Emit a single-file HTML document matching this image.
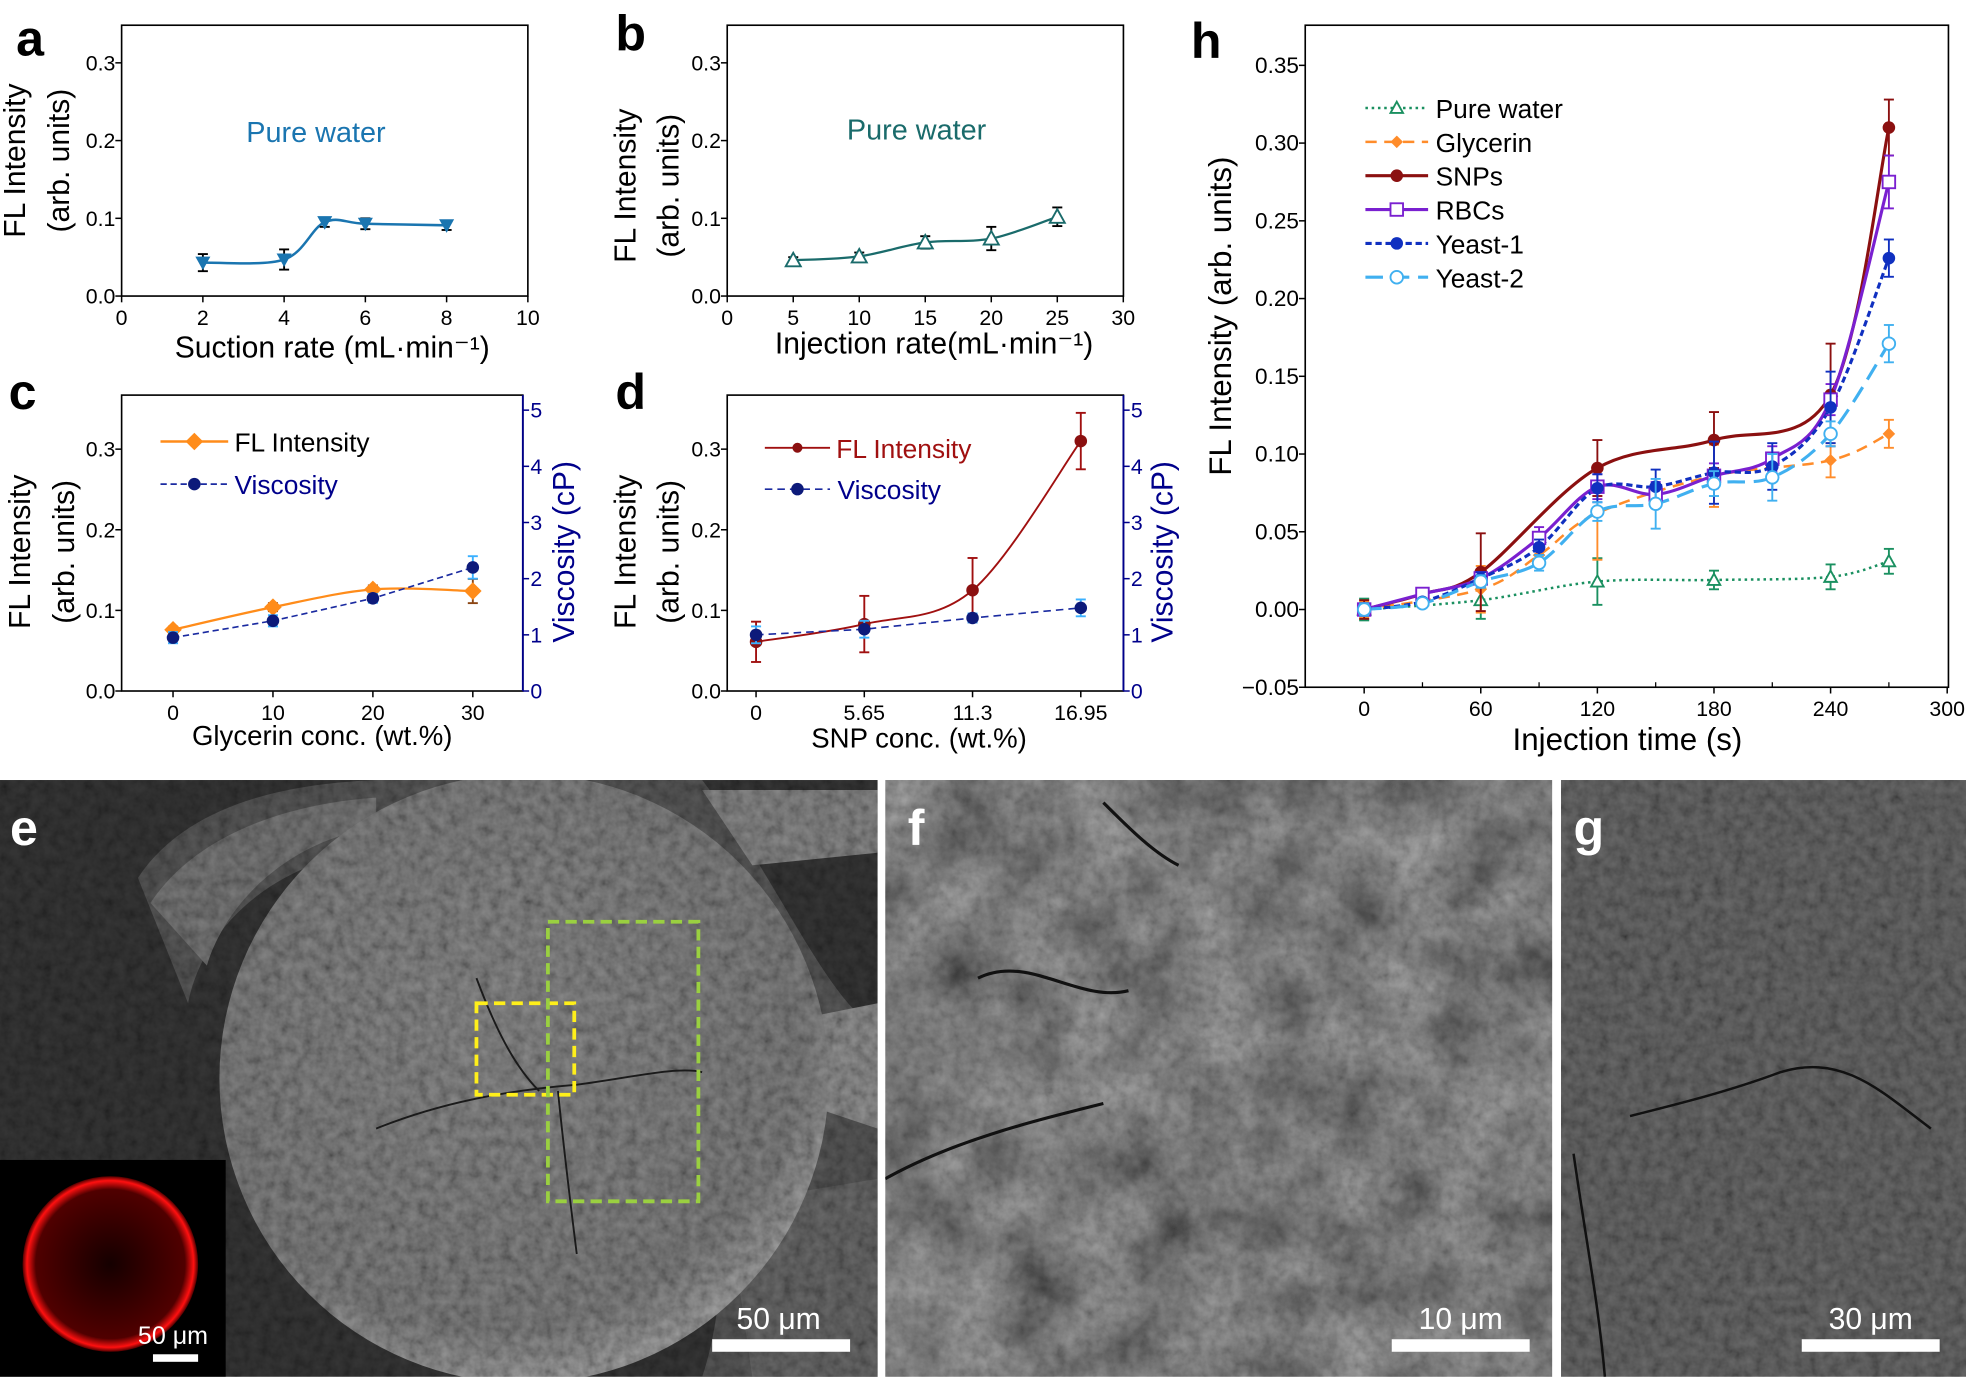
<!DOCTYPE html>
<html><head><meta charset="utf-8"><style>
html,body{margin:0;padding:0;background:#fff}
svg{display:block}
text{font-family:"Liberation Sans",sans-serif}
.ov{mix-blend-mode:overlay}
</style></head><body>
<svg id="s" xmlns="http://www.w3.org/2000/svg" width="1966" height="1377" viewBox="0 0 1568 1098">
<defs>
<filter id="tex" x="0" y="0" width="100%" height="100%">
<feTurbulence type="fractalNoise" baseFrequency="0.12" numOctaves="3" seed="3"/>
<feColorMatrix type="matrix" values="1 0 0 0 0  1 0 0 0 0  1 0 0 0 0  0 0 0 0 1"/>
</filter>
<filter id="tex2" x="0" y="0" width="100%" height="100%">
<feTurbulence type="fractalNoise" baseFrequency="0.02" numOctaves="4" seed="7"/>
<feColorMatrix type="matrix" values="1 0 0 0 0  1 0 0 0 0  1 0 0 0 0  0 0 0 0 1"/>
</filter>
<radialGradient id="sph" cx="0.45" cy="0.4" r="0.6"><stop offset="0" stop-color="#626262"/><stop offset="0.85" stop-color="#5a5a5a"/><stop offset="1" stop-color="#707070"/></radialGradient>
<radialGradient id="ring" cx="0.5" cy="0.5" r="0.5"><stop offset="0" stop-color="#150000"/><stop offset="0.85" stop-color="#500000"/><stop offset="0.95" stop-color="#ff1010"/><stop offset="1" stop-color="#500000"/></radialGradient>
<clipPath id="ce"><rect x="0" y="622" width="700" height="476"/></clipPath>
<clipPath id="cf"><rect x="706" y="622" width="532" height="476"/></clipPath>
<clipPath id="cg"><rect x="1245" y="622" width="323" height="476"/></clipPath>
</defs>

<g clip-path="url(#ce)">
<rect x="0" y="622" width="700" height="476" fill="#262626"/>
<path d="M110,700 C150,640 230,625 300,622 L560,622 C620,700 660,800 700,820 L700,1098 L560,1098 C 600,980 560,760 430,700 C 300,640 170,700 150,800 Z" fill="#3e3e3e"/>
<path d="M120,720 C160,660 240,640 300,636 L300,660 C230,670 180,720 165,770 Z" fill="#555"/>
<path d="M560,630 L700,630 L700,680 L600,690 Z" fill="#606060"/>
<path d="M600,820 L700,800 L700,900 L640,880 Z" fill="#666"/>
<path d="M580,960 L700,940 L700,1098 L600,1098 Z" fill="#4a4a4a"/>
<circle cx="418" cy="860" r="243" fill="url(#sph)"/>
<rect class="ov" x="0" y="622" width="700" height="476" filter="url(#tex)" opacity="0.45"/>
<path d="M380,780 C395,820 410,850 430,870 M300,900 C350,880 400,870 460,865 C500,860 540,850 560,855 M445,870 C450,920 455,960 460,1000" stroke="#1a1a1a" stroke-width="1.5" fill="none"/>
<rect x="380" y="800" width="78" height="73" fill="none" stroke="#ffef1a" stroke-width="3" stroke-dasharray="9,5"/>
<rect x="437" y="735" width="120" height="223" fill="none" stroke="#9ad040" stroke-width="3" stroke-dasharray="9,5"/>
<rect x="0" y="925" width="180" height="173" fill="#000"/>
<circle cx="88" cy="1008" r="70" fill="url(#ring)"/>
<text x="110" y="1072" font-size="20" fill="#fff">50 μm</text>
<rect x="122" y="1080" width="36" height="6" fill="#fff"/>
<rect x="568" y="1068" width="110" height="10" fill="#fff"/>
<text x="621" y="1060" font-size="24" fill="#fff" text-anchor="middle">50 μm</text>
<text x="8" y="674" font-size="40" font-weight="bold" fill="#fff">e</text>
</g>
<g clip-path="url(#cf)">
<rect x="706" y="622" width="532" height="476" fill="#4c4c4c"/>
<rect class="ov" x="706" y="622" width="532" height="476" filter="url(#tex2)" opacity="0.8"/>
<rect class="ov" x="706" y="622" width="532" height="476" filter="url(#tex)" opacity="0.3"/>
<path d="M706,940 C760,910 820,895 880,880 M780,780 C820,760 860,800 900,790 M880,640 C900,660 920,680 940,690" stroke="#111" stroke-width="2.5" fill="none"/>
<rect x="1110" y="1068" width="110" height="10" fill="#fff"/>
<text x="1165" y="1060" font-size="24" fill="#fff" text-anchor="middle">10 μm</text>
<text x="724" y="674" font-size="40" font-weight="bold" fill="#fff">f</text>
</g>
<g clip-path="url(#cg)">
<rect x="1245" y="622" width="323" height="476" fill="#4a4a4a"/>
<rect class="ov" x="1245" y="622" width="323" height="476" filter="url(#tex)" opacity="0.45"/>
<path d="M1300,890 C1340,880 1380,870 1420,855 C1470,840 1500,870 1540,900 M1255,920 C1265,990 1275,1040 1280,1098" stroke="#111" stroke-width="2" fill="none"/>
<rect x="1437" y="1068" width="110" height="10" fill="#fff"/>
<text x="1492" y="1060" font-size="24" fill="#fff" text-anchor="middle">30 μm</text>
<text x="1255" y="674" font-size="40" font-weight="bold" fill="#fff">g</text>
</g>
<g id="charts"></g>
</svg>
<script>
var NS="http://www.w3.org/2000/svg",G=document.getElementById("charts");
function el(t,a,txt){var e=document.createElementNS(NS,t);for(var k in a)e.setAttribute(k,a[k]);if(txt!==undefined)e.textContent=txt;G.appendChild(e);return e;}
function txt(x,y,s,sz,o){o=o||{};var a={x:x,y:y,"font-size":sz,fill:o.fill||"#000","text-anchor":o.anchor||"start"};if(o.rot)a.transform="rotate(-90 "+x+" "+y+")";if(o.bold)a["font-weight"]="bold";el("text",a,s);}
function cr(p){if(p.length<3)return "M"+p.map(q=>q.join(",")).join(" L");var d="M"+p[0][0]+","+p[0][1];for(var i=0;i<p.length-1;i++){var p0=p[i-1]||p[i],p1=p[i],p2=p[i+1],p3=p[i+2]||p2;d+=" C"+(p1[0]+(p2[0]-p0[0])/6)+","+(p1[1]+(p2[1]-p0[1])/6)+" "+(p2[0]-(p3[0]-p1[0])/6)+","+(p2[1]-(p3[1]-p1[1])/6)+" "+p2[0]+","+p2[1];}return d;}
function line(p,c,w,dash,smooth){el("path",{d:smooth?cr(p):"M"+p.map(q=>q.join(",")).join(" L"),fill:"none",stroke:c,"stroke-width":w,"stroke-dasharray":dash||"none"});}
function eb(x,y1,y2,c){el("line",{x1:x,y1:y1,x2:x,y2:y2,stroke:c,"stroke-width":1.5});el("line",{x1:x-4,y1:y1,x2:x+4,y2:y1,stroke:c,"stroke-width":1.5});el("line",{x1:x-4,y1:y2,x2:x+4,y2:y2,stroke:c,"stroke-width":1.5});}
function mk(t,x,y,c,r){r=r||5;
 if(t=="dtri")el("path",{d:"M"+(x-r)+","+(y-r*0.8)+" L"+(x+r)+","+(y-r*0.8)+" L"+x+","+(y+r)+"Z",fill:c});
 else if(t=="otri")el("path",{d:"M"+(x-r)+","+(y+r*0.8)+" L"+(x+r)+","+(y+r*0.8)+" L"+x+","+(y-r)+"Z",fill:"#fff",stroke:c,"stroke-width":1.5});
 else if(t=="dia")el("path",{d:"M"+x+","+(y-r)+" L"+(x+r)+","+y+" L"+x+","+(y+r)+" L"+(x-r)+","+y+"Z",fill:c});
 else if(t=="circ")el("circle",{cx:x,cy:y,r:r,fill:c});
 else if(t=="ocirc")el("circle",{cx:x,cy:y,r:r,fill:"#fff",stroke:c,"stroke-width":1.5});
 else if(t=="osq")el("rect",{x:x-r,y:y-r,width:2*r,height:2*r,fill:"#fff",stroke:c,"stroke-width":1.5});
}
function frame(x0,y0,x1,y1){el("rect",{x:x0,y:y0,width:x1-x0,height:y1-y0,fill:"none",stroke:"#000","stroke-width":1.3});}
function xt(X,vals,y,lab,sz){vals.forEach(function(v,i){el("line",{x1:X(v),y1:y,x2:X(v),y2:y+5,stroke:"#000","stroke-width":1.2});txt(X(v),y+23,lab?lab[i]:String(v),sz||17,{anchor:"middle"});});}
function yt(Y,vals,x,lab,sz,right,col){vals.forEach(function(v,i){el("line",{x1:x,y1:Y(v),x2:right?x+5:x-5,y2:Y(v),stroke:col||"#000","stroke-width":1.2});txt(right?x+6:x-5,Y(v)+6,lab[i],sz||17,{anchor:right?"start":"end",fill:col||"#000"});});}

(function(){var X=v=>97+32.4*v,Y=v=>236-620*v;frame(97,20,421,236);
xt(X,[0,2,4,6,8,10],236);yt(Y,[0,.1,.2,.3],97,["0.0","0.1","0.2","0.3"]);
var d=[[2,.043,.011],[4,.047,.013],[5,.095,.006],[6,.093,.007],[8,.091,.006]],c="#1a75b0";
line(d.map(q=>[X(q[0]),Y(q[1])]),c,2,null,true);d.forEach(q=>{eb(X(q[0]),Y(q[1]-q[2]),Y(q[1]+q[2]),"#000");mk("dtri",X(q[0]),Y(q[1]),c,6);});
txt(252,113,"Pure water",23,{anchor:"middle",fill:c});
txt(24,44,"a",40,{bold:1,anchor:"middle"});
txt(20,128,"FL Intensity",24,{rot:1,anchor:"middle"});txt(55,128,"(arb. units)",24,{rot:1,anchor:"middle"});
txt(265,285,"Suction rate (mL·min⁻¹)",24,{anchor:"middle"});})();
(function(){var X=v=>580+10.53*v,Y=v=>236-620*v;frame(580,20,896,236);
xt(X,[0,5,10,15,20,25,30],236);yt(Y,[0,.1,.2,.3],580,["0.0","0.1","0.2","0.3"]);
var d=[[5,.046,.004],[10,.051,.005],[15,.069,.008],[20,.074,.015],[25,.102,.012]],c="#1a6b6b";
line(d.map(q=>[X(q[0]),Y(q[1])]),c,1.8,null,true);d.forEach(q=>{eb(X(q[0]),Y(q[1]-q[2]),Y(q[1]+q[2]),"#000");mk("otri",X(q[0]),Y(q[1]),c,6);});
txt(731,111,"Pure water",23,{anchor:"middle",fill:c});
txt(503,40,"b",40,{bold:1,anchor:"middle"});
txt(507,148,"FL Intensity",24,{rot:1,anchor:"middle"});txt(541,148,"(arb. units)",24,{rot:1,anchor:"middle"});
txt(745,282,"Injection rate(mL·min⁻¹)",24,{anchor:"middle"});})();
(function(){var X=v=>138+7.97*v,Y=v=>551-643*v,V=v=>551-44.8*v;frame(97,315,417,551);
el("line",{x1:417,y1:315,x2:417,y2:551,stroke:"#00008b","stroke-width":1.5});
xt(X,[0,10,20,30],551);yt(Y,[0,.1,.2,.3],97,["0.0","0.1","0.2","0.3"]);yt(V,[0,1,2,3,4,5],417,["0","1","2","3","4","5"],17,true,"#00008b");
var f=[[0,.076,.004],[10,.104,.005],[20,.126,.005],[30,.124,.015]],v=[[0,.95,.1],[10,1.25,.1],[20,1.65,.08],[30,2.2,.2]];
line(f.map(q=>[X(q[0]),Y(q[1])]),"#ff8c1a",1.8,null,true);line(v.map(q=>[X(q[0]),V(q[1])]),"#1a2aa0",1.3,"5,3");
f.forEach(q=>{eb(X(q[0]),Y(q[1]-q[2]),Y(q[1]+q[2]),"#8b4513");mk("dia",X(q[0]),Y(q[1]),"#ff8c1a",7);});
v.forEach(q=>{eb(X(q[0]),V(q[1]-q[2]),V(q[1]+q[2]),"#3ab0ff");mk("circ",X(q[0]),V(q[1]),"#0d1a7a",5);});
line([[128,352],[182,352]],"#ff8c1a",2);mk("dia",155,352,"#ff8c1a",7);txt(187,360,"FL Intensity",21);
line([[128,386],[182,386]],"#1a2aa0",1.3,"5,3");mk("circ",155,386,"#0d1a7a",5);txt(187,394,"Viscosity",21,{fill:"#00008b"});
txt(18,326,"c",40,{bold:1,anchor:"middle"});
txt(24,440,"FL Intensity",24,{rot:1,anchor:"middle"});txt(59,440,"(arb. units)",24,{rot:1,anchor:"middle"});
txt(458,440,"Viscosity (cP)",24,{rot:1,anchor:"middle",fill:"#00008b"});
txt(257,594,"Glycerin conc. (wt.%)",22,{anchor:"middle"});})();
(function(){var X=v=>603+15.28*v,Y=v=>551-643*v,V=v=>551-44.8*v;frame(580,315,896,551);
el("line",{x1:896,y1:315,x2:896,y2:551,stroke:"#00008b","stroke-width":1.5});
xt(X,[0,5.65,11.3,16.95],551,["0","5.65","11.3","16.95"]);yt(Y,[0,.1,.2,.3],580,["0.0","0.1","0.2","0.3"]);yt(V,[0,1,2,3,4,5],896,["0","1","2","3","4","5"],17,true,"#00008b");
var f=[[0,.061,.025],[5.65,.083,.035],[11.3,.125,.04],[16.95,.31,.035]],v=[[0,1.0,.15],[5.65,1.1,.15],[11.3,1.3,.08],[16.95,1.48,.15]];
line(f.map(q=>[X(q[0]),Y(q[1])]),"#a01010",1.5,null,true);line(v.map(q=>[X(q[0]),V(q[1])]),"#1a2aa0",1.3,"6,4");
f.forEach(q=>{eb(X(q[0]),Y(q[1]-q[2]),Y(q[1]+q[2]),"#a01010");mk("circ",X(q[0]),Y(q[1]),"#8b1010",5);});
v.forEach(q=>{eb(X(q[0]),V(q[1]-q[2]),V(q[1]+q[2]),"#3ab0ff");mk("circ",X(q[0]),V(q[1]),"#0d1a7a",5);});
line([[610,357],[662,357]],"#a01010",1.5);mk("circ",636,357,"#8b1010",4);txt(667,365,"FL Intensity",21,{fill:"#a01010"});
line([[610,390],[662,390]],"#1a2aa0",1.3,"6,4");mk("circ",636,390,"#0d1a7a",5);txt(668,398,"Viscosity",21,{fill:"#00008b"});
txt(503,326,"d",40,{bold:1,anchor:"middle"});
txt(507,440,"FL Intensity",24,{rot:1,anchor:"middle"});txt(541,440,"(arb. units)",24,{rot:1,anchor:"middle"});
txt(935,440,"Viscosity (cP)",24,{rot:1,anchor:"middle",fill:"#00008b"});
txt(733,596,"SNP conc. (wt.%)",22,{anchor:"middle"});})();
(function(){var X=t=>1088+1.55*t,Y=v=>486-1240*v;frame(1041,20,1554,548);
xt(X,[0,60,120,180,240,300],548);
yt(Y,[-.05,0,.05,.1,.15,.2,.25,.3,.35],1041,["−0.05","0.00","0.05","0.10","0.15","0.20","0.25","0.30","0.35"],18);
[30,90,150,210,270].forEach(t=>el("line",{x1:X(t),y1:548,x2:X(t),y2:544,stroke:"#000"}));
var T=[0,30,60,90,120,150,180,210,240,270];
var S=[
 {n:"Pure water",c:"#1a9060",d:"2,3",w:2,m:"otri",t:[0,60,120,180,240,270],v:[0,.006,.018,.019,.021,.031],e:[.007,.012,.015,.006,.008,.008]},
 {n:"Glycerin",c:"#ff8c2a",d:"9,6",w:2,m:"dia",t:[0,60,90,120,180,240,270],v:[0,.013,.035,.062,.086,.096,.113],e:[.005,.015,.005,.03,.02,.011,.009],mc:"#ff8c2a"},
 {n:"SNPs",c:"#8b1010",d:null,w:2.5,m:"circ",t:[0,30,60,120,180,240,270],v:[0,.01,.024,.091,.109,.138,.31],e:[.006,.002,.025,.018,.018,.033,.018]},
 {n:"RBCs",c:"#7a20d0",d:null,w:2.5,m:"osq",t:T,v:[0,.01,.02,.046,.079,.074,.086,.097,.135,.275],e:[.004,.002,.004,.007,.008,.008,.008,.008,.01,.017]},
 {n:"Yeast-1",c:"#1030c0",d:"5,3",w:2.5,m:"circ",t:T,v:[0,.005,.02,.04,.078,.079,.088,.092,.13,.226],e:[.004,.002,.004,.005,.009,.011,.02,.015,.023,.012],mc:"#1030c0"},
 {n:"Yeast-2",c:"#40b0f0",d:"14,7",w:2.5,m:"ocirc",t:T,v:[0,.004,.018,.03,.063,.068,.081,.085,.113,.171],e:[.004,.002,.004,.005,.006,.016,.008,.015,.008,.012]}];
S.forEach(s=>{line(s.t.map((t,i)=>[X(t),Y(s.v[i])]),s.c,s.w,s.d,true);});
S.forEach(s=>{s.t.forEach((t,i)=>{eb(X(t),Y(s.v[i]-s.e[i]),Y(s.v[i]+s.e[i]),s.c);mk(s.m,X(t),Y(s.v[i]),s.mc||s.c,5);});});
S.forEach((s,i)=>{var y=86+27*i;line([[1089,y],[1139,y]],s.c,s.w,s.d);mk(s.m,1114,y,s.mc||s.c,5);txt(1145,y+8,s.n,21);});
txt(962,46,"h",40,{bold:1,anchor:"middle"});
txt(982,252,"FL Intensity (arb. units)",25,{rot:1,anchor:"middle"});
txt(1298,598,"Injection time (s)",25,{anchor:"middle"});})();
</script>
</body></html>
